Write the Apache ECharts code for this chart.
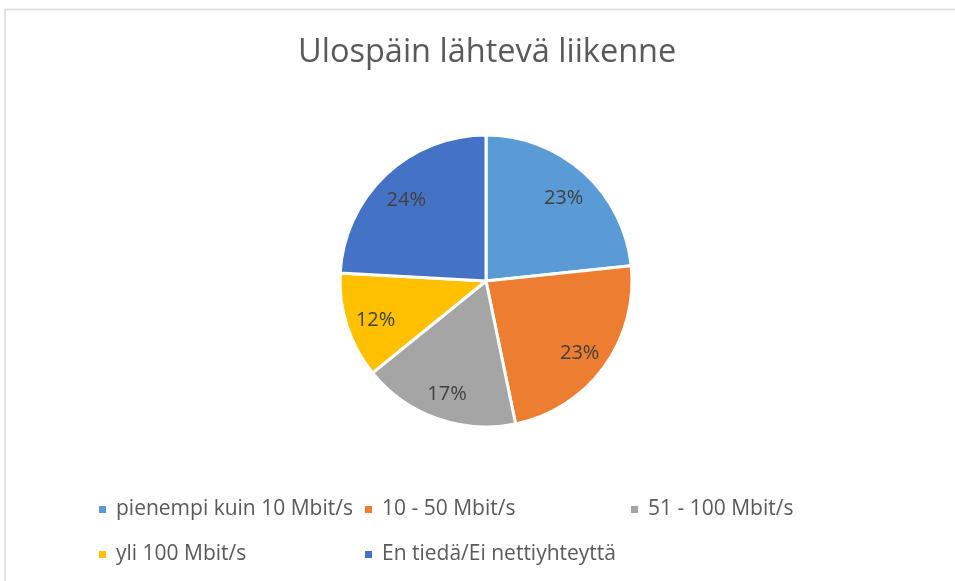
<!DOCTYPE html>
<html>
<head>
<meta charset="utf-8">
<script src="https://cdn.jsdelivr.net/npm/echarts@6/dist/echarts.min.js"></script>
<style>
  html, body { margin: 0; padding: 0; background: #fff; }
  #chart { width: 955px; height: 581px; }
</style>
</head>
<body>
<div id="chart"></div>
<script>
var titleText = "Ulospäin lähtevä liikenne";
var categories = ["pienempi kuin 10 Mbit/s", "10 - 50 Mbit/s", "51 - 100 Mbit/s", "yli 100 Mbit/s", "En tiedä/Ei nettiyhteyttä"];
var values = [23.3, 23.4, 17.4, 11.7, 24.1];
var colors = ["#5B9BD5", "#ED7D31", "#A5A5A5", "#FFC000", "#4472C4"];
// legend grid: column / row of each item
var legendCol = [0, 1, 2, 0, 1];
var legendRow = [0, 0, 0, 1, 1];

var font = "Open Sans";
var chart = echarts.init(document.getElementById("chart"));

var data = categories.map(function(name, i) {
    return { name: name, value: values[i], itemStyle: { color: colors[i] } };
});

var legends = categories.map(function(name, i) {
    return {
        data: [name],
        left: 97 + legendCol[i] * 266,
        top: 499 + legendRow[i] * 45,
        padding: 0,
        icon: "rect",
        itemWidth: 9,
        itemHeight: 9,
        selectedMode: false,
        textStyle: {
            fontFamily: font,
            fontSize: 21,
            color: "#595959",
            padding: [0, 0, 0, 4]
        }
    };
});

var option = {
    animation: false,
    title: {
        text: titleText,
        left: 293,
        top: 31,
        textStyle: {
            fontFamily: font,
            fontSize: 32.5,
            fontWeight: "normal",
            color: "#595959"
        }
    },
    legend: legends,
    graphic: [
        { type: "line", shape: { x1: 5, y1: 9.5, x2: 955, y2: 9.5 }, style: { stroke: "#d9d9d9", lineWidth: 1.5 } },
        { type: "line", shape: { x1: 5, y1: 9.5, x2: 5, y2: 581 }, style: { stroke: "#d9d9d9", lineWidth: 1.5 } }
    ],
    series: [
        {
            type: "pie",
            center: [486, 281],
            radius: [0, 146],
            startAngle: 90,
            clockwise: true,
            silent: true,
            label: { show: false },
            labelLine: { show: false },
            itemStyle: { borderColor: "#fff", borderWidth: 3 },
            data: data
        },
        {
            // invisible ring only used to place the percent labels further out
            type: "pie",
            center: [486, 281],
            radius: [80, 146],
            startAngle: 90,
            clockwise: true,
            silent: true,
            legendHoverLink: false,
            itemStyle: { color: "rgba(0,0,0,0)", borderWidth: 0 },
            label: {
                show: true,
                position: "inside",
                offset: [0, 4],
                fontFamily: font,
                fontSize: 20,
                color: "#404040",
                formatter: function(p) { return Math.round(p.percent) + "%"; }
            },
            labelLine: { show: false },
            data: categories.map(function(name, i) { return { name: name + " ", value: values[i] }; })
        }
    ]
};
chart.setOption(option);
</script>
</body>
</html>
